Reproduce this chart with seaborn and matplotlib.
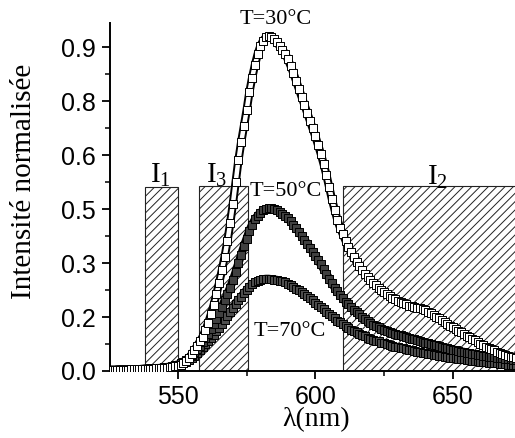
import numpy as np
import pandas as pd
import matplotlib
matplotlib.use("Agg")
import matplotlib.pyplot as plt
import seaborn as sns
from matplotlib.ticker import FixedLocator, FixedFormatter

# ---------------- data ----------------
wavelength = np.arange(525, 676)

int_30C = [
    0.003, 0.003, 0.003, 0.004, 0.004, 0.004, 0.004, 0.004, 0.005, 0.005, 0.005, 0.005, 0.005, 0.006, 0.006,
    0.006, 0.006, 0.007, 0.007, 0.008, 0.008, 0.009, 0.010, 0.011, 0.013,
    0.015, 0.018, 0.022, 0.028, 0.036, 0.046, 0.058, 0.070, 0.082, 0.095,
    0.113, 0.133, 0.157, 0.183, 0.213, 0.245, 0.280, 0.318, 0.360, 0.410,
    0.465, 0.525, 0.585, 0.635, 0.680, 0.725, 0.775, 0.815, 0.850, 0.880,
    0.903, 0.918, 0.927, 0.930, 0.928, 0.922, 0.913, 0.903, 0.893, 0.882,
    0.866, 0.848, 0.828, 0.806, 0.784, 0.762, 0.740, 0.718, 0.696, 0.674,
    0.652, 0.628, 0.603, 0.575, 0.545, 0.512, 0.478, 0.448, 0.420, 0.398,
    0.380, 0.362, 0.345, 0.330, 0.316, 0.303, 0.291, 0.280, 0.270, 0.261,
    0.253, 0.245, 0.238, 0.231, 0.225, 0.219, 0.214, 0.209, 0.204, 0.199,
    0.195, 0.191, 0.188, 0.185, 0.182, 0.180, 0.178, 0.176, 0.174, 0.172,
    0.169, 0.165, 0.160, 0.156, 0.151, 0.146, 0.141, 0.136, 0.131, 0.126,
    0.121, 0.117, 0.112, 0.107, 0.103, 0.098, 0.094, 0.090, 0.085, 0.081,
    0.076, 0.072, 0.068, 0.064, 0.061, 0.058, 0.054, 0.051, 0.048, 0.045,
    0.043, 0.040, 0.038, 0.036, 0.034, 0.032,
]

int_50C = [
    0.003, 0.003, 0.003, 0.004, 0.004, 0.004, 0.004, 0.004, 0.005, 0.005, 0.005, 0.005, 0.006, 0.006, 0.006,
    0.007, 0.007, 0.008, 0.008, 0.009, 0.010, 0.011, 0.012, 0.014, 0.016,
    0.018, 0.022, 0.026, 0.031, 0.037, 0.044, 0.052, 0.061, 0.070, 0.080,
    0.091, 0.103, 0.116, 0.130, 0.145, 0.161, 0.178, 0.196, 0.214, 0.232,
    0.252, 0.275, 0.300, 0.323, 0.346, 0.368, 0.390, 0.407, 0.421, 0.432,
    0.440, 0.446, 0.450, 0.452, 0.452, 0.450, 0.447, 0.443, 0.437, 0.431,
    0.424, 0.416, 0.407, 0.397, 0.387, 0.376, 0.365, 0.354, 0.343, 0.332,
    0.320, 0.308, 0.296, 0.283, 0.270, 0.257, 0.244, 0.232, 0.221, 0.211,
    0.202, 0.193, 0.185, 0.177, 0.170, 0.163, 0.157, 0.151, 0.144, 0.138,
    0.133, 0.129, 0.125, 0.121, 0.118, 0.115, 0.112, 0.109, 0.106, 0.103,
    0.101, 0.099, 0.097, 0.094, 0.092, 0.090, 0.088, 0.085, 0.083, 0.081,
    0.079, 0.077, 0.075, 0.073, 0.071, 0.069, 0.067, 0.065, 0.063, 0.061,
    0.059, 0.058, 0.056, 0.054, 0.053, 0.051, 0.050, 0.048, 0.047, 0.045,
    0.044, 0.043, 0.041, 0.040, 0.039, 0.038, 0.037, 0.036, 0.035, 0.034,
    0.033, 0.032, 0.031, 0.030, 0.029, 0.028,
]

int_70C = [
    0.003, 0.003, 0.003, 0.003, 0.004, 0.004, 0.004, 0.004, 0.004, 0.005, 0.005, 0.005, 0.005, 0.006, 0.006,
    0.006, 0.007, 0.007, 0.008, 0.008, 0.009, 0.010, 0.011, 0.012, 0.013,
    0.015, 0.018, 0.022, 0.026, 0.031, 0.036, 0.042, 0.049, 0.059, 0.067,
    0.075, 0.083, 0.092, 0.101, 0.110, 0.120, 0.130, 0.141, 0.152, 0.163,
    0.175, 0.186, 0.196, 0.206, 0.216, 0.225, 0.234, 0.241, 0.246, 0.250,
    0.253, 0.255, 0.256, 0.256, 0.255, 0.254, 0.253, 0.251, 0.249, 0.246,
    0.242, 0.238, 0.234, 0.229, 0.224, 0.219, 0.214, 0.208, 0.202, 0.196,
    0.190, 0.184, 0.178, 0.171, 0.165, 0.158, 0.152, 0.146, 0.140, 0.135,
    0.130, 0.125, 0.120, 0.115, 0.111, 0.107, 0.103, 0.099, 0.096, 0.093,
    0.090, 0.087, 0.084, 0.082, 0.079, 0.077, 0.075, 0.072, 0.070, 0.068,
    0.066, 0.064, 0.063, 0.061, 0.059, 0.057, 0.056, 0.054, 0.052, 0.051,
    0.049, 0.048, 0.046, 0.045, 0.044, 0.042, 0.041, 0.040, 0.039, 0.037,
    0.036, 0.035, 0.034, 0.033, 0.032, 0.031, 0.030, 0.029, 0.028, 0.027,
    0.026, 0.025, 0.024, 0.023, 0.023, 0.022, 0.021, 0.020, 0.020, 0.019,
    0.018, 0.018, 0.017, 0.017, 0.016, 0.016,
]

band_names = ["1", "3", "2"]
band_start = [538.0, 557.5, 610.0]
band_end = [550.0, 575.5, 690.0]
band_height = [0.51, 0.515, 0.515]

curve_labels = ["T=30°C", "T=50°C", "T=70°C"]

y_ticks = [0.0, 0.15, 0.30, 0.45, 0.60, 0.75, 0.90]
y_tick_labels = ["0.0", "0.2", "0.3", "0.5", "0.6", "0.8", "0.9"]
x_ticks = [550, 600, 650]

# ---------------- style ----------------
sns.set_theme(style="ticks")
plt.rcParams["font.family"] = ["Liberation Sans", "DejaVu Sans"]
plt.rcParams["mathtext.fontset"] = "custom"
plt.rcParams["mathtext.rm"] = "Liberation Serif"
plt.rcParams["mathtext.it"] = "Liberation Serif:italic"
plt.rcParams["hatch.linewidth"] = 0.7
SERIF = ["Liberation Serif", "DejaVu Serif"]

fig = plt.figure(figsize=(5.15, 4.38), dpi=100)
ax = fig.add_axes([110 / 515, 67 / 438, 405 / 515, 348 / 438])

# hatched integration bands
widths = [e - s for s, e in zip(band_start, band_end)]
ax.bar(band_start, band_height, width=widths, align="edge", facecolor="white",
       edgecolor="#222222", linewidth=0.8, hatch="////", zorder=1)

df = pd.DataFrame({"wl": wavelength, "30": int_30C, "50": int_50C, "70": int_70C})

styles = {"70": "0.3", "50": "0.25", "30": "white"}
for key in ["70", "50", "30"]:
    sns.lineplot(data=df, x="wl", y=key, ax=ax, color="black", lw=6.0, zorder=2)
    sns.lineplot(data=df, x="wl", y=key, ax=ax, color=styles[key], lw=3.2, zorder=2)
    sns.scatterplot(data=df, x="wl", y=key, ax=ax, marker="s", s=30,
                    facecolor=styles[key], edgecolor="black", linewidth=0.7, zorder=3)

ax.set_xlim(525.3, 672.6)
ax.set_ylim(0, 0.967)
ax.set_xlabel("")
ax.set_ylabel("")

ax.yaxis.set_major_locator(FixedLocator(y_ticks))
ax.yaxis.set_major_formatter(FixedFormatter(y_tick_labels))
ax.yaxis.set_minor_locator(FixedLocator([0.075, 0.225, 0.375, 0.525, 0.675, 0.825]))
ax.xaxis.set_major_locator(FixedLocator(x_ticks))
ax.xaxis.set_minor_locator(FixedLocator([575, 625]))

ax.tick_params(which="major", direction="out", length=6, width=1.3, labelsize=18, pad=4, color="black")
ax.tick_params(which="minor", direction="out", length=3.5, width=1.1, color="black")
for s in ["top", "right"]:
    ax.spines[s].set_visible(False)
for s in ["left", "bottom"]:
    ax.spines[s].set_linewidth(1.4)
    ax.spines[s].set_color("black")
for lab in ax.get_xticklabels() + ax.get_yticklabels():
    lab.set_color("black")

# annotations
ax.text(585.6, 0.978, curve_labels[0], ha="center", va="center", fontsize=16, family=SERIF, color="black")
ax.text(589.3, 0.500, curve_labels[1], ha="center", va="center", fontsize=16, family=SERIF, color="black")
ax.text(590.7, 0.111, curve_labels[2], ha="center", va="center", fontsize=16, family=SERIF, color="black")

band_label_x = [543.5, 564.2, 644.5]
band_label_y = [0.522, 0.522, 0.517]
for name, bx, by in zip(band_names, band_label_x, band_label_y):
    ax.text(bx, by, "I$_{" + name + "}$", ha="center", va="baseline", fontsize=21,
            family=SERIF, color="black")

fig.text(24 / 515, (438 - 181) / 438, "Intensité normalisée", rotation=90, ha="center",
         va="center", fontsize=21, family=SERIF, color="black")
fig.text(316 / 515, (438 - 420) / 438, "λ(nm)", ha="center", va="center", fontsize=20,
         family=SERIF, color="black")

fig.savefig("out.png", dpi=100, facecolor="white")
